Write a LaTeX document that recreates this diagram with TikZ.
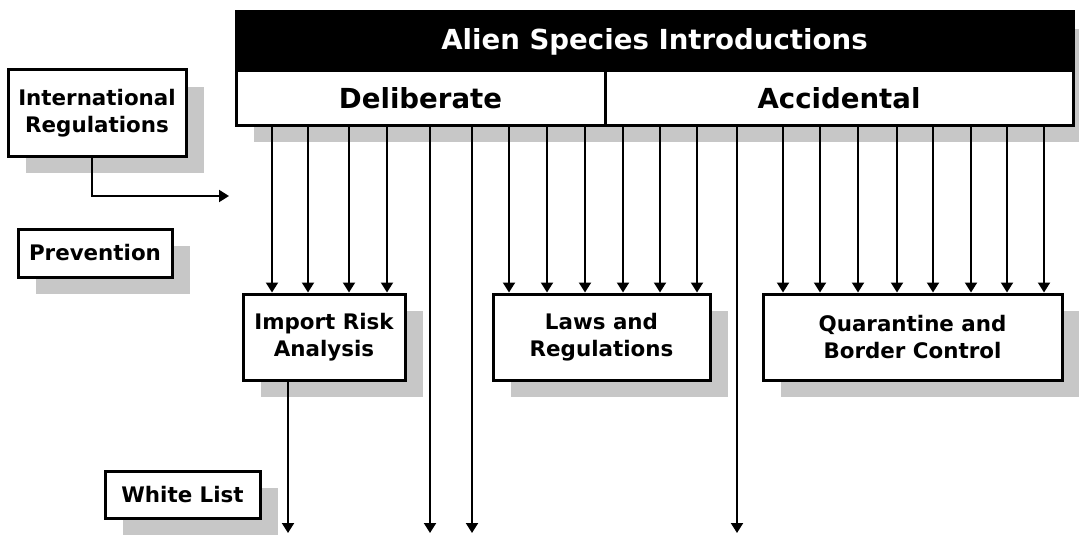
\documentclass[tikz,border=0pt]{standalone}
\usepackage{fontspec}
\setmainfont{DejaVu Sans}
\usetikzlibrary{arrows.meta,calc,positioning,shadows}

\begin{document}
\begin{tikzpicture}[x=0.5pt, y=-0.5pt, >={Triangle[length=5pt,width=6pt]},
  box/.style={draw, line width=1.5pt, fill=white, align=center, inner sep=0pt,
    font=\fontsize{10.7}{13.5}\selectfont\bfseries,
    drop shadow={shadow xshift=9pt, shadow yshift=-8.5pt, fill=black!22, opacity=1}},
  headbox/.style={box, font=\fontsize{13.8}{16}\selectfont\bfseries},
  link/.style={->, line width=1pt}]

\useasboundingbox (0,0) rectangle (1079,535);

% Left-hand labels
\node[box, minimum width=89pt, minimum height=43pt] (intreg) at (97,113) {International\\Regulations};
\node[box, minimum width=77pt, minimum height=24pt] (prev) at (95,253) {Prevention};
\node[box, minimum width=77.5pt, minimum height=23.5pt] (white) at (182.5,494.5) {White List};

% ============ Header ============
\node[headbox, fill=black, text=white, minimum width=418.5pt, minimum height=29.5pt] (title) at (654.5,41.5) {Alien Species Introductions};
\node[headbox, minimum width=184.5pt, minimum height=27pt] (delib) at (420.5,98) {Deliberate};
\node[headbox, minimum width=234pt, minimum height=27pt] (accid) at (839,98) {Accidental};

% ============ Measures ============
\node[box, minimum width=81pt, minimum height=43pt] (ira) at (324,337) {Import Risk\\Analysis};
\node[box, minimum width=108.5pt, minimum height=43pt] (laws) at (601.5,337) {Laws and\\Regulations};
\node[box, minimum width=149.5pt, minimum height=43pt] (quar) at (912.5,337) {Quarantine and\\Border Control};

\coordinate (regend) at (229,196);
\coordinate (bottom) at (0,533);

% International regulations feed in
\draw[link] ([xshift=-2.5pt]intreg.south) |- (regend);

% Deliberate -> Import Risk Analysis
\foreach \x in {272,308,349,387}
  \draw[link] (delib.south -| \x,0) -- (ira.north -| \x,0);

% To laws and regulations
\foreach \x in {509,547,585}
  \draw[link] (delib.south -| \x,0) -- (laws.north -| \x,0);
\foreach \x in {623,660,697}
  \draw[link] (accid.south -| \x,0) -- (laws.north -| \x,0);

% Accidental -> Quarantine
\foreach \x in {783,820,858,897,933,971,1007,1044}
  \draw[link] (accid.south -| \x,0) -- (quar.north -| \x,0);

% Running on past the measures
\foreach \x in {430,472}
  \draw[link] (delib.south -| \x,0) -- (\x,0 |- bottom);
\draw[link] (accid.south -| 737,0) -- (737,0 |- bottom);
\draw[link] (ira.south -| 288,0) -- (288,0 |- bottom);

\end{tikzpicture}
\end{document}
